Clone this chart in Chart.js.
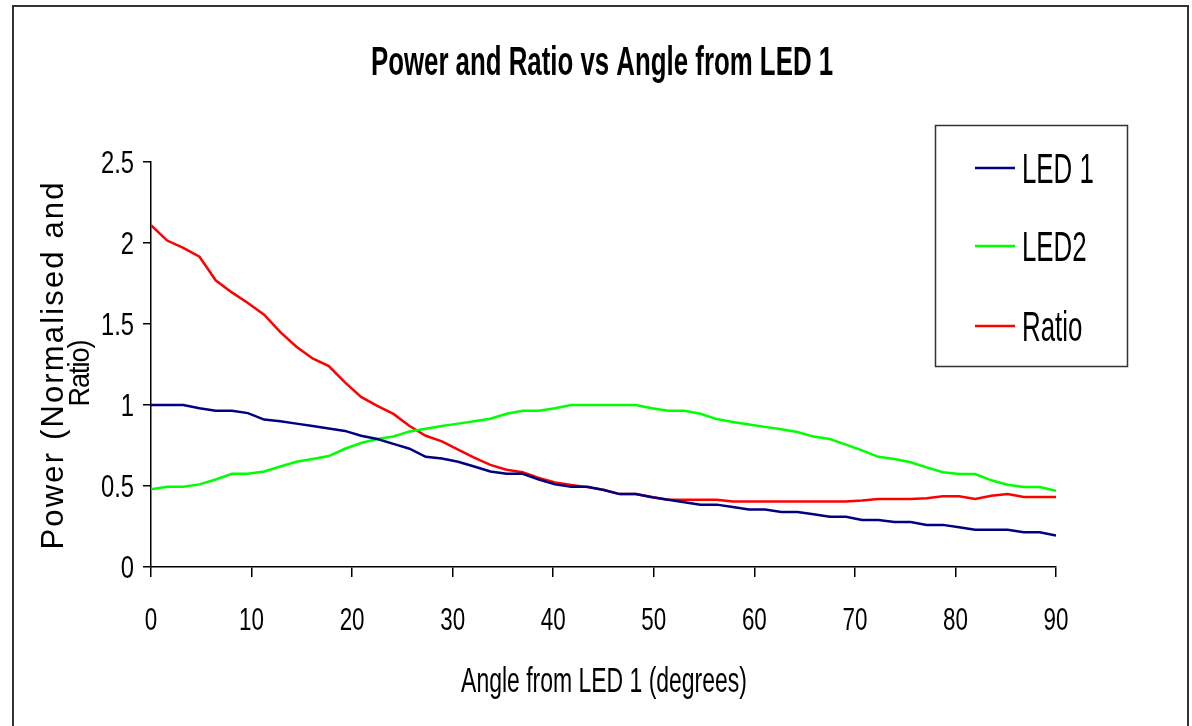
<!DOCTYPE html>
<html>
<head>
<meta charset="utf-8">
<script src="https://cdn.jsdelivr.net/npm/chart.js@4/dist/chart.umd.min.js"></script>
<style>
  html,body{margin:0;padding:0;background:#fff;overflow:hidden;}
  #wrap{position:relative;width:1192px;height:726px;}
  #frame{position:absolute;left:12px;top:5px;width:1177px;height:760px;border:2px solid #333;box-sizing:border-box;pointer-events:none;}
</style>
</head>
<body>
<div id="wrap"><canvas id="c" width="1192" height="726"></canvas><div id="frame"></div></div>
<script>
// Arial Narrow look: Liberation Sans squeezed horizontally
const FONT = '"Liberation Sans", Arial, sans-serif';
const NARROW = 0.82;

const chartTitle = "Power and Ratio vs Angle from LED 1";
const xTitle = "Angle from LED 1 (degrees)";
const yTitleLines = ["Power (Normalised and", "Ratio)"];
const seriesNames = ["LED 1", "LED2", "Ratio"];
const seriesColors = ["#000080", "#00ff00", "#ff0000"];

const angles = [0, 1.61, 3.21, 4.82, 6.43, 8.04, 9.64, 11.25, 12.86, 14.46, 16.07, 17.68, 19.29, 20.89, 22.5,
  24.11, 25.71, 27.32, 28.93, 30.54, 32.14, 33.75, 35.36, 36.96, 38.57, 40.18, 41.79, 43.39, 45, 46.61,
  48.21, 49.82, 51.43, 53.04, 54.64, 56.25, 57.86, 59.46, 61.07, 62.68, 64.29, 65.89, 67.5, 69.11, 70.71,
  72.32, 73.93, 75.54, 77.14, 78.75, 80.36, 81.96, 83.57, 85.18, 86.79, 88.39, 90];

const led1 = [1.0, 1.0, 1.0, 0.98, 0.965, 0.965, 0.95, 0.91, 0.90, 0.885, 0.87, 0.855, 0.84, 0.81, 0.79,
  0.76, 0.73, 0.68, 0.67, 0.65, 0.62, 0.59, 0.575, 0.575, 0.54, 0.51, 0.495, 0.495, 0.475, 0.45,
  0.45, 0.43, 0.415, 0.40, 0.385, 0.385, 0.37, 0.355, 0.355, 0.34, 0.34, 0.325, 0.31, 0.31, 0.29,
  0.29, 0.278, 0.278, 0.26, 0.26, 0.245, 0.23, 0.23, 0.23, 0.215, 0.215, 0.195];

const led2 = [0.48, 0.495, 0.495, 0.51, 0.54, 0.575, 0.575, 0.59, 0.62, 0.65, 0.667, 0.685, 0.73, 0.765, 0.79,
  0.806, 0.837, 0.854, 0.87, 0.885, 0.90, 0.915, 0.946, 0.965, 0.965, 0.98, 1.0, 1.0, 1.0, 1.0,
  1.0, 0.98, 0.965, 0.965, 0.946, 0.913, 0.895, 0.88, 0.865, 0.85, 0.833, 0.805, 0.79, 0.755, 0.72,
  0.68, 0.667, 0.647, 0.615, 0.585, 0.574, 0.574, 0.535, 0.508, 0.494, 0.494, 0.47];

const ratio = [2.11, 2.015, 1.97, 1.915, 1.77, 1.695, 1.63, 1.557, 1.45, 1.36, 1.287, 1.24, 1.14, 1.05, 0.995,
  0.945, 0.87, 0.81, 0.776, 0.725, 0.675, 0.63, 0.60, 0.585, 0.55, 0.522, 0.506, 0.493, 0.477, 0.45,
  0.45, 0.432, 0.415, 0.415, 0.415, 0.415, 0.405, 0.405, 0.405, 0.405, 0.405, 0.405, 0.405, 0.405, 0.41,
  0.42, 0.42, 0.42, 0.425, 0.436, 0.436, 0.42, 0.44, 0.45, 0.432, 0.432, 0.432];

const xTicks = [0, 10, 20, 30, 40, 50, 60, 70, 80, 90];
const yTicks = [0, 0.5, 1, 1.5, 2, 2.5];

function pts(vals){ return vals.map((v,i)=>({x:angles[i], y:v})); }

function drawText(ctx, text, x, y, font, sx, sy, align){
  ctx.save();
  ctx.translate(x, y); ctx.scale(sx, sy);
  ctx.font = font; ctx.textAlign = align || "left"; ctx.textBaseline = "alphabetic";
  ctx.fillStyle = "#000";
  ctx.fillText(text, 0, 0);
  ctx.restore();
}

// rotated line of text spread over a given length
function drawYLine(ctx, text, bx, cy, len, font, sx){
  ctx.save();
  ctx.translate(bx, cy); ctx.rotate(-Math.PI/2); ctx.scale(sx, 1);
  ctx.font = font; ctx.fillStyle = "#000"; ctx.textBaseline = "alphabetic"; ctx.textAlign = "left";
  const L = len / sx;
  const w0 = ctx.measureText(text).width;
  ctx.letterSpacing = ((L - w0) / (text.length - 1)) + "px";
  ctx.fillText(text, -L/2, 0);
  ctx.restore();
}

const decor = {
  id: "decor",
  afterDraw(chart){
    const ctx = chart.ctx;
    const xs = chart.scales.x, ys = chart.scales.y;

    // tick labels placed on the library's scales
    xs.ticks.forEach(t=>{
      drawText(ctx, String(t.value), xs.getPixelForValue(t.value), 630, "28px " + FONT, 0.8, 1.15, "center");
    });
    ys.ticks.forEach(t=>{
      drawText(ctx, String(t.value), 134, ys.getPixelForValue(t.value) + 11, "29px " + FONT, NARROW, 1.05, "right");
    });

    drawText(ctx, chartTitle, 602, 75, "bold 31.5px " + FONT, NARROW, 1.3, "center");
    drawText(ctx, xTitle, 604, 692, "28px " + FONT, NARROW, 1.25, "center");
    drawYLine(ctx, yTitleLines[0], 63, 366, 367, "31px " + FONT, 1);
    drawYLine(ctx, yTitleLines[1], 89, 373, 67, "30px " + FONT, 0.9);

    // legend box
    ctx.save();
    ctx.strokeStyle = "#333"; ctx.lineWidth = 1.5;
    ctx.strokeRect(935.5, 125.5, 192, 241);
    const rows = [168, 246, 326];
    chart.data.datasets.forEach((ds, i)=>{
      ctx.strokeStyle = ds.borderColor; ctx.lineWidth = 2.5;
      ctx.beginPath(); ctx.moveTo(975, rows[i]); ctx.lineTo(1015, rows[i]); ctx.stroke();
      drawText(ctx, ds.label, 1022, rows[i] + 15, "31.5px " + FONT, NARROW, 1.33, "left");
    });
    ctx.restore();
  }
};

new Chart(document.getElementById("c"), {
  type: "line",
  data: {
    datasets: [
      {label: seriesNames[0], data: pts(led1), borderColor: seriesColors[0]},
      {label: seriesNames[1], data: pts(led2), borderColor: seriesColors[1]},
      {label: seriesNames[2], data: pts(ratio), borderColor: seriesColors[2]},
    ]
  },
  options: {
    responsive: false, animation: false,
    layout: {padding: {left: 13, right: 136, top: 162, bottom: 0}},
    elements: {line: {borderWidth: 2.5, tension: 0, fill: false}, point: {radius: 0}},
    plugins: {legend: {display: false}, title: {display: false}, tooltip: {enabled: false}},
    scales: {
      x: {
        type: "linear", min: 0, max: 90,
        afterBuildTicks: s => { s.ticks = xTicks.map(v=>({value:v})); },
        afterFit: s => { s.height = 159; },
        grid: {display: true, drawOnChartArea: false, drawTicks: true, tickLength: 10, color: "#000", lineWidth: 1.5},
        border: {display: true, color: "#000", width: 1.5},
        ticks: {display: false}
      },
      y: {
        min: 0, max: 2.5,
        afterBuildTicks: s => { s.ticks = yTicks.map(v=>({value:v})); },
        afterFit: s => { s.width = 138; },
        grid: {display: true, drawOnChartArea: false, drawTicks: true, tickLength: 8, color: "#000", lineWidth: 1.5},
        border: {display: true, color: "#000", width: 1.5},
        ticks: {display: false}
      }
    }
  },
  plugins: [decor]
});
</script>
</body>
</html>
